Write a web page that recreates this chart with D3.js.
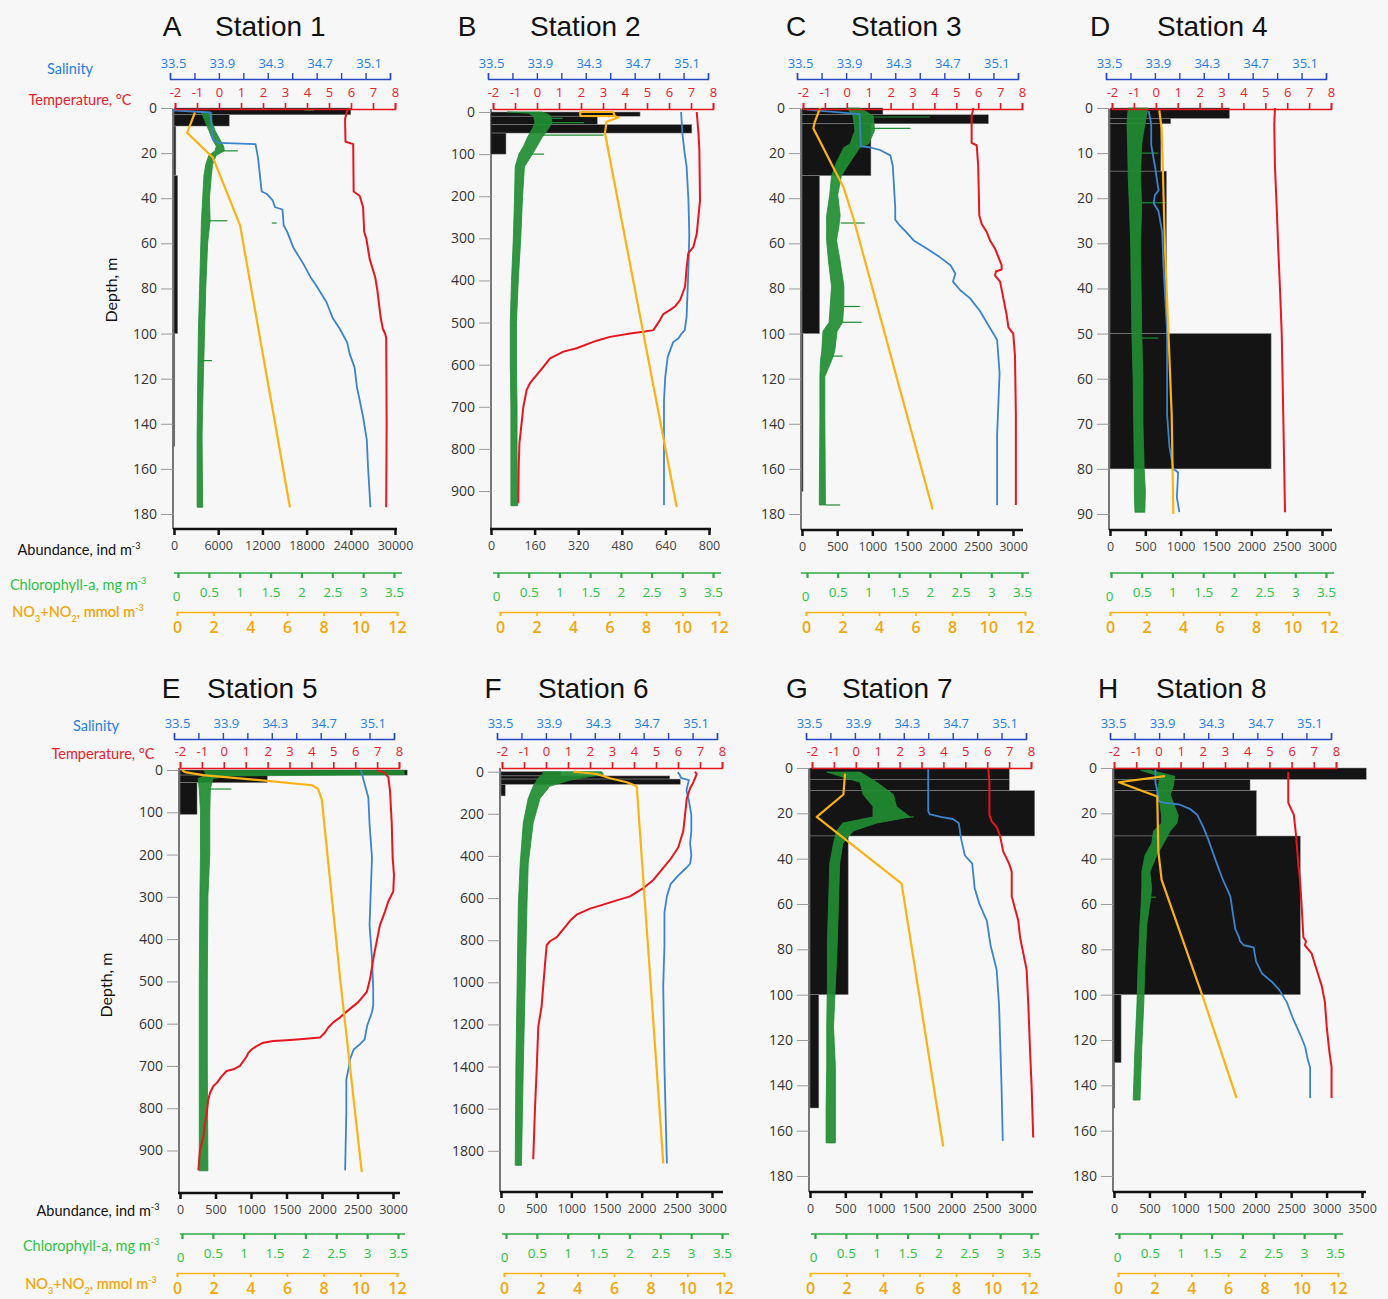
<!DOCTYPE html>
<html>
<head>
<meta charset="utf-8">
<script src="https://cdn.jsdelivr.net/npm/d3@7"></script>
<style>
  html, body { margin: 0; padding: 0; background: #f7f7f7; }
  svg { display: block; }
</style>
</head>
<body>
<svg id="chart" width="1388" height="1299"></svg>
<script>
// ---------------- data ----------------
const panelLetters = ["A", "B", "C", "D", "E", "F", "G", "H"];
const stationNames = ["Station 1", "Station 2", "Station 3", "Station 4", "Station 5", "Station 6", "Station 7", "Station 8"];

const salinityLabels = [33.5, 33.9, 34.3, 34.7, 35.1];
const salinityTickMarks = [33.5, 33.7, 33.9, 34.1, 34.3, 34.5, 34.7, 34.9, 35.1, 35.3];
const temperatureTicks = [-2, -1, 0, 1, 2, 3, 4, 5, 6, 7, 8];
const chlorophyllTicks = [0, 0.5, 1, 1.5, 2, 2.5, 3, 3.5];
const nitrateTicks = [0, 2, 4, 6, 8, 10, 12];

const depthTicks180 = [0, 20, 40, 60, 80, 100, 120, 140, 160, 180];
const depthTicks90 = [0, 10, 20, 30, 40, 50, 60, 70, 80, 90];
const depthTicks900 = [0, 100, 200, 300, 400, 500, 600, 700, 800, 900];
const depthTicks1800 = [0, 200, 400, 600, 800, 1000, 1200, 1400, 1600, 1800];

const abundanceTicks30000 = [0, 6000, 12000, 18000, 24000, 30000];
const abundanceTicks800 = [0, 160, 320, 480, 640, 800];
const abundanceTicks3000 = [0, 500, 1000, 1500, 2000, 2500, 3000];
const abundanceTicks3500 = [0, 500, 1000, 1500, 2000, 2500, 3000, 3500];

// abundance layers: [top depth, bottom depth, ind m-3]
// profiles: [depth, value]; chlorophyll band: [depth, low, high]
// Station 1
const abundance1 = [[0,3,24000],[3,8,7500],[8,30,250],[30,100,500],[100,150,100]];
const temperature1 = [[0,5.9],[2,5.8],[5,5.73],[15,5.75],[16,6.1],[37,6.12],[39,6.4],[44,6.55],[55,6.6],[58,6.7],[67,6.85],[75,7.1],[81,7.2],[93,7.35],[98,7.45],[100,7.55],[102,7.6],[140,7.62],[177,7.6]];
const salinity1 = [[1,33.52],[2,33.83],[14,33.85],[15.5,33.9],[16,34.2],[22,34.22],[37,34.25],[38,34.29],[41,34.34],[44,34.36],[45,34.42],[52,34.43],[55,34.46],[62,34.51],[69,34.59],[75,34.65],[79,34.7],[86,34.78],[93,34.83],[98,34.89],[104,34.95],[109,34.97],[115,35.01],[124,35.03],[129,35.05],[137,35.08],[147,35.11],[159,35.12],[177,35.14]];
const chlorophyll1 = [[2,0.38,0.55],[6,0.44,0.55],[10,0.5,0.6],[14,0.56,0.68],[17,0.62,0.74],[19,0.6,0.75],[21,0.5,0.62],[25,0.45,0.56],[30,0.42,0.54],[40,0.4,0.51],[50,0.38,0.52],[60,0.37,0.48],[80,0.35,0.45],[100,0.33,0.43],[120,0.32,0.41],[145,0.31,0.39],[177,0.31,0.4]];
const chlSpikes1 = [[1,2.05,2.2],[19,0.7,0.97],[50,0.5,0.8],[51,1.52,1.6],[112,0.38,0.55]];
const nitrate1 = [[2,0.98],[11,0.55],[22,1.96],[52,3.44],[177,6.16]];

// Station 2
const abundance2 = [[0,10,547],[10,30,390],[30,50,737],[50,100,55]];
const temperature2 = [[0,7.26],[50,7.34],[90,7.38],[210,7.41],[290,7.26],[320,7.11],[335,6.88],[370,6.8],[415,6.73],[447,6.5],[462,6.27],[470,6.05],[480,5.74],[494,5.59],[506,5.44],[518,5.29],[522,4.83],[526,4.23],[534,3.32],[543,2.71],[549,2.41],[561,1.8],[569,1.2],[585,0.59],[605,0.29],[625,-0.02],[644,-0.32],[660,-0.47],[700,-0.62],[739,-0.7],[787,-0.8],[842,-0.83],[929,-0.85]];
const salinity2 = [[0,35.08],[50,35.09],[100,35.11],[130,35.125],[210,35.14],[290,35.147],[370,35.14],[447,35.13],[486,35.125],[518,35.11],[526,35.085],[538,35.057],[546,35.016],[566,34.99],[582,34.97],[630,34.95],[685,34.94],[765,34.94],[933,34.94]];
const chlorophyll2 = [[0,0.15,0.7],[3,0.5,0.78],[10,0.58,0.86],[25,0.6,0.88],[40,0.56,0.82],[60,0.48,0.72],[80,0.42,0.64],[100,0.34,0.56],[130,0.28,0.43],[200,0.27,0.4],[300,0.25,0.37],[400,0.22,0.33],[500,0.2,0.3],[600,0.2,0.3],[700,0.21,0.31],[800,0.21,0.31],[935,0.21,0.32]];
const chlSpikes2 = [[15,0.8,1.05],[25,0.85,1.4],[55,0.7,1.72],[100,0.55,0.75]];
const nitrate2 = [[10,6.3],[0,6.2],[0,4.4],[9,4.4],[10,6.3],[13,6.48],[23,5.84],[50,5.75],[938,9.68]];

// Station 3
const abundance3 = [[0,3,1150],[3,7,2650],[7,30,980],[30,100,250],[100,170,15]];
const temperature3 = [[0,5.78],[3.6,5.7],[15.5,5.7],[16.5,5.93],[25.6,6.0],[47.7,6.05],[51.4,6.16],[55,6.39],[58.7,6.54],[62.4,6.77],[66,6.92],[69.7,7.07],[71.6,7.07],[72.5,6.81],[74.3,6.77],[77,7.0],[84.4,7.15],[91.8,7.3],[97.3,7.38],[100,7.6],[110,7.68],[136,7.72],[176,7.72]];
const salinity3 = [[0.7,33.58],[2.7,34.01],[17,34.02],[17.4,34.09],[18.7,34.18],[21,34.26],[25.6,34.28],[44,34.3],[49.5,34.3],[52.3,34.34],[55,34.39],[58.7,34.45],[62.4,34.56],[66,34.66],[69.7,34.75],[73.4,34.79],[77,34.77],[80.8,34.83],[84.4,34.91],[90,34.99],[97.3,35.07],[102.8,35.13],[117.5,35.15],[145,35.13],[174.5,35.13],[176,35.13]];
const chlorophyll3 = [[0,0.65,0.86],[3.6,0.75,1.08],[10,0.78,1.1],[16,0.7,1.0],[17.5,0.6,0.86],[24,0.48,0.7],[30,0.4,0.56],[38.5,0.37,0.5],[47.7,0.32,0.54],[52.3,0.32,0.52],[58.7,0.32,0.48],[68,0.35,0.54],[79,0.4,0.6],[87,0.38,0.6],[95,0.36,0.58],[99,0.26,0.49],[108,0.24,0.45],[112,0.22,0.4],[119,0.21,0.29],[136,0.21,0.29],[176,0.2,0.3]];
const chlSpikes3 = [[4,1.0,2.0],[9,1.0,1.68],[51,0.55,0.94],[88,0.6,0.86],[95,0.58,0.89],[110,0.4,0.58],[176,0.3,0.54]];
const nitrate3 = [[0,0.77],[6,0.49],[9,0.4],[25,1.41],[35,2.05],[49,2.6],[178,6.94]];

// Station 4
const abundance4 = [[0,2.3,1690],[2.3,3.5,860],[3.5,14,720],[14,50,800],[50,80,2280]];
const temperature4 = [[0,5.44],[3.6,5.41],[12.8,5.44],[22,5.52],[31,5.59],[40,5.67],[50,5.75],[68,5.82],[89.6,5.9]];
const salinity4 = [[0.7,33.85],[3.6,33.87],[8.2,33.87],[12.8,33.9],[16.5,33.92],[18.3,33.93],[19.3,33.9],[21.1,33.89],[22.9,33.93],[27.5,33.96],[35,33.97],[49.6,34.0],[68,34.0],[75.3,34.02],[79.9,34.05],[80.8,34.09],[86.3,34.08],[89.6,34.1]];
const chlorophyll4 = [[0,0.28,0.6],[3.6,0.26,0.55],[8,0.27,0.5],[15,0.28,0.48],[22,0.3,0.5],[30,0.32,0.48],[40,0.33,0.49],[50,0.34,0.5],[60,0.36,0.52],[70,0.37,0.52],[80,0.38,0.54],[85,0.38,0.56],[89.6,0.39,0.55]];
const chlSpikes4 = [[10,0.5,0.77],[21,0.5,0.9],[51,0.5,0.77]];
const nitrate4 = [[0.5,2.7],[4.5,2.83],[12.7,2.89],[31,3.01],[49.6,3.2],[68,3.38],[90,3.47]];

// Station 5
const abundance5 = [[0,12,3200],[12,30,1230],[30,105,240]];
const temperature5 = [[1,6.98],[5,7.3],[17,7.51],[49,7.59],[128,7.67],[208,7.71],[248,7.77],[287,7.74],[311,7.51],[335,7.36],[367,7.13],[406,6.98],[446,6.83],[494,6.68],[525,6.53],[549,6.14],[565,5.76],[585,5.31],[597,5.0],[609,4.77],[621,4.62],[633,4.39],[637,3.48],[639,2.87],[641,2.26],[645,1.8],[653,1.5],[661,1.27],[669,1.12],[677,1.05],[700,0.74],[708,0.44],[712,0.13],[724,-0.09],[740,-0.32],[748,-0.48],[764,-0.63],[780,-0.71],[811,-0.78],[835,-0.86],[867,-0.93],[899,-1.09],[947,-1.16]];
const salinity5 = [[0,35.03],[12,35.04],[33,35.06],[65,35.09],[128,35.1],[208,35.12],[287,35.11],[367,35.1],[446,35.12],[518,35.13],[557,35.13],[573,35.12],[589,35.1],[605,35.08],[637,35.06],[649,35.02],[661,34.97],[684,34.94],[704,34.93],[732,34.91],[811,34.91],[947,34.9]];
const chlorophyll5 = [[1,0.35,3.6],[11,0.4,3.6],[14,0.35,0.8],[20,0.26,0.5],[45,0.28,0.46],[100,0.3,0.45],[200,0.3,0.45],[300,0.29,0.42],[500,0.28,0.41],[700,0.28,0.41],[948,0.28,0.42]];
const chlSpikes5 = [[45,0.42,0.8]];
const nitrate5 = [[0,0.27],[5,0.44],[12,1.42],[24,4.5],[36,7.37],[45,7.7],[70,7.9],[494,8.9],[951,10.08]];

// Station 6
const abundance6 = [[0,20,850],[20,35,2400],[35,60,2550],[60,115,60]];
const temperature6 = [[0,6.77],[11,6.85],[50,6.7],[79,6.55],[127,6.4],[205,6.32],[282,6.24],[360,6.01],[418,5.64],[476,5.18],[514,4.88],[553,4.42],[592,3.82],[611,3.21],[631,2.6],[650,2.0],[679,1.39],[708,1.09],[747,0.79],[785,0.49],[805,0.18],[824,0.03],[921,-0.05],[1114,-0.2],[1211,-0.35],[1405,-0.42],[1598,-0.5],[1840,-0.58]];
const salinity6 = [[1.4,34.98],[31,35.01],[40,35.07],[89,35.05],[137,35.07],[205,35.09],[282,35.09],[340,35.08],[398,35.09],[437,35.08],[456,35.05],[495,34.98],[534,34.92],[592,34.89],[669,34.87],[824,34.87],[1018,34.86],[1405,34.87],[1860,34.89]];
const chlorophyll6 = [[0,0.6,1.55],[12,0.6,1.58],[21,0.55,1.4],[40,0.5,1.04],[69,0.44,0.71],[127,0.36,0.55],[244,0.28,0.44],[437,0.23,0.36],[631,0.2,0.34],[1018,0.18,0.31],[1405,0.16,0.28],[1869,0.15,0.25]];
const chlSpikes6 = [];
const nitrate6 = [[0,3.78],[11,5.06],[31,5.78],[50,6.7],[69,7.24],[1860,8.69]];

// Station 7
const abundance7 = [[0,5,2820],[5,10,2820],[10,30,3180],[30,100,540],[100,150,125]];
const temperature7 = [[0.5,6.05],[6.3,6.1],[20.6,6.1],[23.4,6.2],[26.1,6.43],[29.6,6.58],[36.8,6.73],[42.2,7.0],[45.8,7.12],[56.6,7.12],[62,7.27],[67.4,7.42],[74.6,7.5],[81.8,7.65],[89,7.8],[105,7.88],[123,7.95],[141,8.03],[163,8.1]];
const salinity7 = [[0.5,34.5],[18.9,34.5],[20.3,34.51],[21.6,34.6],[22.5,34.7],[24.3,34.75],[31.5,34.77],[38.6,34.8],[42.2,34.86],[53,34.88],[60.2,34.92],[67.4,34.98],[78.2,35.01],[89,35.06],[105,35.08],[123,35.09],[141,35.1],[164.5,35.11]];
const chlorophyll7 = [[1.8,0.19,0.73],[6.3,0.73,1.0],[11.7,0.78,1.27],[17,0.94,1.32],[21.6,0.94,1.54],[24.3,0.45,1.0],[27.8,0.35,0.62],[33.3,0.3,0.45],[42,0.24,0.4],[60,0.22,0.38],[78,0.2,0.36],[96,0.2,0.33],[114,0.19,0.3],[132,0.19,0.33],[150,0.18,0.33],[165.4,0.18,0.33]];
const chlSpikes7 = [[21.6,1.4,1.6]];
const nitrate7 = [[2.5,1.92],[11.7,1.83],[21.6,0.37],[51,5.02],[167,7.3]];

// Station 8
const abundance8 = [[0,5,3560],[5,10,1920],[10,30,2010],[30,100,2630],[100,130,100],[130,150,8]];
const temperature8 = [[1.8,5.85],[15.3,5.85],[17.1,5.93],[20.6,6.1],[29.6,6.2],[42.2,6.3],[49.4,6.38],[60.2,6.45],[69.2,6.5],[74.6,6.53],[76.4,6.65],[78.2,6.6],[80,6.75],[81.8,6.9],[89,7.13],[96.2,7.36],[103.3,7.5],[114,7.58],[125,7.7],[132,7.8],[145.6,7.8]];
const salinity8 = [[0.5,33.87],[6.3,33.87],[11.7,33.89],[14.4,33.89],[15.3,33.93],[15.6,33.99],[16.2,34.07],[18,34.15],[20.6,34.21],[26.1,34.26],[31.5,34.3],[42.2,34.37],[49.4,34.42],[56.6,34.48],[63.8,34.5],[71,34.52],[74.6,34.55],[76.4,34.56],[78.2,34.59],[79.1,34.67],[85.4,34.69],[90.8,34.74],[94.4,34.82],[98,34.88],[103.3,34.94],[110.5,34.99],[117.7,35.05],[123.1,35.09],[128.5,35.11],[132.1,35.13],[145.6,35.13]];
const chlorophyll8 = [[1,0.35,0.5],[3.6,0.66,0.9],[8,0.64,0.88],[11.7,0.61,0.83],[15.3,0.66,0.88],[21,0.69,0.96],[24.3,0.69,0.94],[27.8,0.56,0.83],[33.3,0.53,0.72],[38.6,0.42,0.61],[45.8,0.37,0.5],[53,0.37,0.53],[60,0.36,0.5],[69,0.34,0.45],[87,0.31,0.42],[105,0.29,0.4],[123,0.26,0.37],[146.5,0.23,0.34]];
const chlSpikes8 = [[57,0.45,0.6]];
const nitrate8 = [[3.6,2.56],[6.3,0.05],[12.6,2.14],[36.8,2.2],[49.4,2.38],[101.5,4.65],[145.6,6.47]];

const stations = [
  { depthMax: 180,  depthTicks: depthTicks180,  abundanceTicks: abundanceTicks30000, abundance: abundance1, temperature: temperature1, salinity: salinity1, chlorophyll: chlorophyll1, spikes: chlSpikes1, nitrate: nitrate1 },
  { depthMax: 900,  depthTicks: depthTicks900,  abundanceTicks: abundanceTicks800,   abundance: abundance2, temperature: temperature2, salinity: salinity2, chlorophyll: chlorophyll2, spikes: chlSpikes2, nitrate: nitrate2 },
  { depthMax: 180,  depthTicks: depthTicks180,  abundanceTicks: abundanceTicks3000,  abundance: abundance3, temperature: temperature3, salinity: salinity3, chlorophyll: chlorophyll3, spikes: chlSpikes3, nitrate: nitrate3 },
  { depthMax: 90,   depthTicks: depthTicks90,   abundanceTicks: abundanceTicks3000,  abundance: abundance4, temperature: temperature4, salinity: salinity4, chlorophyll: chlorophyll4, spikes: chlSpikes4, nitrate: nitrate4 },
  { depthMax: 900,  depthTicks: depthTicks900,  abundanceTicks: abundanceTicks3000,  abundance: abundance5, temperature: temperature5, salinity: salinity5, chlorophyll: chlorophyll5, spikes: chlSpikes5, nitrate: nitrate5 },
  { depthMax: 1800, depthTicks: depthTicks1800, abundanceTicks: abundanceTicks3000,  abundance: abundance6, temperature: temperature6, salinity: salinity6, chlorophyll: chlorophyll6, spikes: chlSpikes6, nitrate: nitrate6 },
  { depthMax: 180,  depthTicks: depthTicks180,  abundanceTicks: abundanceTicks3000,  abundance: abundance7, temperature: temperature7, salinity: salinity7, chlorophyll: chlorophyll7, spikes: chlSpikes7, nitrate: nitrate7 },
  { depthMax: 180,  depthTicks: depthTicks180,  abundanceTicks: abundanceTicks3500,  abundance: abundance8, temperature: temperature8, salinity: salinity8, chlorophyll: chlorophyll8, spikes: chlSpikes8, nitrate: nitrate8 }
];

// ---------------- layout ----------------
const rows = [
  { titleY: 36,  salY: 79,  tempY: 109, chlY: 573,  no3Y: 612 },
  { titleY: 698, salY: 739, tempY: 768, chlY: 1234, no3Y: 1273 }
];
const layout = [
  { row: 0, x0: 173,  depth: [108, 514],     temp: [175, 395],   sal: [170, 390],   chl: [178, 394],   no3: [177, 397],   abund: [174, 395],   abundY: 529,  abundLine: [173, 397],   chlLine: [174, 402],   letterX: 172,  titleX: 215 },
  { row: 0, x0: 491,  depth: [112, 491],     temp: [493, 713],   sal: [488, 708],   chl: [498, 713],   no3: [500, 719],   abund: [491, 709],   abundY: 529,  abundLine: [490, 711],   chlLine: [493, 721],   letterX: 467,  titleX: 530 },
  { row: 0, x0: 801,  depth: [108, 514],     temp: [803, 1022],  sal: [797, 1018],  chl: [807, 1022],  no3: [806, 1025],  abund: [802, 1013],  abundY: 530,  abundLine: [801, 1023],  chlLine: [801, 1029],  letterX: 796,  titleX: 851 },
  { row: 0, x0: 1109, depth: [108, 514],     temp: [1112, 1331], sal: [1106, 1326], chl: [1111, 1326], no3: [1110, 1329], abund: [1110, 1322], abundY: 530,  abundLine: [1109, 1332], chlLine: [1110, 1334], letterX: 1100, titleX: 1157 },
  { row: 1, x0: 179,  depth: [770, 1150.5],  temp: [180, 399],   sal: [174, 394],   chl: [182, 398],   no3: [177, 397],   abund: [180, 393],   abundY: 1193, abundLine: [178, 400],   chlLine: [180, 405],   letterX: 171,  titleX: 207 },
  { row: 1, x0: 500,  depth: [771.7, 1150.8], temp: [502, 722],  sal: [497, 717],   chl: [506, 722],   no3: [504, 724],   abund: [501, 712],   abundY: 1192, abundLine: [500, 723],   chlLine: [502, 729],   letterX: 493,  titleX: 538 },
  { row: 1, x0: 809,  depth: [768, 1176],    temp: [812, 1031],  sal: [806, 1026],  chl: [815, 1031],  no3: [810, 1029],  abund: [810, 1022],  abundY: 1192, abundLine: [809, 1033],  chlLine: [811, 1039],  letterX: 797,  titleX: 842 },
  { row: 1, x0: 1113, depth: [768, 1176],    temp: [1114, 1336], sal: [1110, 1331], chl: [1119, 1335], no3: [1118, 1338], abund: [1114, 1362], abundY: 1192, abundLine: [1113, 1366], chlLine: [1115, 1343], letterX: 1108, titleX: 1156 }
];

const COL = {
  sal: "#3b84cc", salAxis: "#2748c4", salText: "#1f7ee6",
  temp: "#e5161e", tempText: "#e8202a",
  chl: "#1f8c32", chlAxis: "#2eaa45", chlText: "#2cc23e",
  no3: "#fbb216", no3Text: "#f2a60a",
  bar: "#141414", ink: "#111", tick: "#333"
};
const TICK_FONT = "'Open Sans', 'Liberation Sans', sans-serif";
const LABEL_FONT = "Lato, 'Open Sans', sans-serif";
const TITLE_FONT = "'Liberation Sans', Arial, sans-serif";

const svg = d3.select("#chart");

function styleAxis(g, stroke, textFill, size, weight) {
  g.attr("font-family", TICK_FONT).attr("font-size", size);
  g.selectAll("line").attr("stroke", stroke);
  g.selectAll("path").attr("stroke", stroke);
  g.selectAll("text").attr("fill", textFill).attr("font-weight", weight || 400);
}

stations.forEach((st, i) => {
  const L = layout[i], R = rows[L.row];
  const g = svg.append("g").attr("class", "panel");

  const y = d3.scaleLinear().domain([0, st.depthMax]).range(L.depth);
  const xT = d3.scaleLinear().domain([-2, 8]).range(L.temp);
  const xS = d3.scaleLinear().domain([33.5, 35.3]).range(L.sal);
  const xC = d3.scaleLinear().domain([0, 3.5]).range(L.chl);
  const xN = d3.scaleLinear().domain([0, 12]).range(L.no3);
  const xA = d3.scaleLinear().domain([0, st.abundanceTicks[st.abundanceTicks.length - 1]]).range(L.abund);

  // title
  g.append("text").attr("x", L.letterX).attr("y", R.titleY).attr("text-anchor", "middle")
    .attr("font-family", TITLE_FONT).attr("font-size", 28).attr("fill", COL.ink).text(panelLetters[i]);
  g.append("text").attr("x", L.titleX).attr("y", R.titleY)
    .attr("font-family", TITLE_FONT).attr("font-size", 28).attr("fill", COL.ink).text(stationNames[i]);

  // abundance layers
  g.append("g").selectAll("rect").data(st.abundance).join("rect")
    .attr("x", xA(0))
    .attr("y", d => y(d[0]))
    .attr("width", d => Math.max(0.8, xA(d[2]) - xA(0)))
    .attr("height", d => y(d[1]) - y(d[0]))
    .attr("fill", COL.bar).attr("stroke", "#8c8c8c").attr("stroke-width", 0.5);

  // depth axis
  g.append("line").attr("x1", L.x0).attr("x2", L.x0).attr("y1", R.tempY).attr("y2", L.abundY)
    .attr("stroke", "#222").attr("stroke-width", 1.2);
  const dAx = g.append("g").attr("transform", `translate(${L.x0},0)`)
    .call(d3.axisLeft(y).tickValues(st.depthTicks).tickSize(12).tickPadding(4).tickFormat(d => String(d)));
  dAx.select(".domain").remove();
  styleAxis(dAx, "#9a9a9a", "#333", 14);

  // chlorophyll band
  const band = d3.area().y(d => y(d[0])).x0(d => xC(d[1])).x1(d => xC(d[2]));
  g.append("path").datum(st.chlorophyll).attr("d", band)
    .attr("fill", COL.chl).attr("fill-opacity", 0.92)
    .attr("stroke", COL.chl).attr("stroke-width", 0.8).attr("stroke-linejoin", "round");
  g.append("g").selectAll("line").data(st.spikes).join("line")
    .attr("x1", d => xC(d[1])).attr("x2", d => xC(d[2]))
    .attr("y1", d => y(d[0])).attr("y2", d => y(d[0]))
    .attr("stroke", COL.chl).attr("stroke-width", 1.2);

  // salinity
  g.append("path").datum(st.salinity)
    .attr("d", d3.line().x(d => xS(d[1])).y(d => y(d[0])))
    .attr("fill", "none").attr("stroke", COL.sal).attr("stroke-width", 1.8).attr("stroke-linejoin", "round");
  // temperature
  g.append("path").datum(st.temperature)
    .attr("d", d3.line().x(d => xT(d[1])).y(d => y(d[0])))
    .attr("fill", "none").attr("stroke", COL.temp).attr("stroke-width", 2).attr("stroke-linejoin", "round");
  // nitrate + nitrite
  g.append("path").datum(st.nitrate)
    .attr("d", d3.line().x(d => xN(d[1])).y(d => y(d[0])))
    .attr("fill", "none").attr("stroke", COL.no3).attr("stroke-width", 2.2).attr("stroke-linejoin", "round");

  // salinity axis
  const sAx = g.append("g").attr("transform", `translate(0,${R.salY})`)
    .call(d3.axisTop(xS).tickValues(salinityTickMarks).tickSize(6).tickSizeOuter(6).tickPadding(5)
      .tickFormat(d => salinityLabels.includes(d) ? d.toFixed(1) : ""));
  styleAxis(sAx, COL.salAxis, COL.salText, 13);
  sAx.selectAll("text").attr("x", 3);
  sAx.selectAll("path, line").attr("stroke-width", 1.4);

  // temperature axis
  const tAx = g.append("g").attr("transform", `translate(0,${R.tempY})`)
    .call(d3.axisTop(xT).tickValues(temperatureTicks).tickSize(6).tickSizeOuter(6).tickPadding(6)
      .tickFormat(d => String(d)));
  styleAxis(tAx, COL.temp, COL.tempText, 13);
  tAx.selectAll("path, line").attr("stroke-width", 1.6);

  // abundance axis
  g.append("line").attr("x1", L.abundLine[0]).attr("x2", L.abundLine[1])
    .attr("y1", L.abundY).attr("y2", L.abundY).attr("stroke", "#111").attr("stroke-width", 2.5);
  const aAx = g.append("g").attr("transform", `translate(0,${L.abundY})`)
    .call(d3.axisBottom(xA).tickValues(st.abundanceTicks).tickSize(6).tickPadding(6).tickFormat(d => String(d)));
  aAx.select(".domain").remove();
  styleAxis(aAx, "#111", "#444", 12.5);
  aAx.selectAll("line").attr("stroke-width", 2.5);

  // chlorophyll axis
  g.append("line").attr("x1", L.chlLine[0]).attr("x2", L.chlLine[1])
    .attr("y1", R.chlY).attr("y2", R.chlY).attr("stroke", COL.chlAxis).attr("stroke-width", 1.6);
  const cAx = g.append("g").attr("transform", `translate(0,${R.chlY})`)
    .call(d3.axisBottom(xC).tickValues(chlorophyllTicks).tickSize(5).tickPadding(9).tickFormat(d => String(d)));
  cAx.select(".domain").remove();
  styleAxis(cAx, COL.chlAxis, COL.chlText, 13.5);
  cAx.selectAll("line").attr("stroke-width", 2.2);
  cAx.selectAll(".tick").filter(d => d === 0).select("text").attr("dy", "1.0em").attr("x", -2);

  // nitrate axis
  const nAx = g.append("g").attr("transform", `translate(0,${R.no3Y})`)
    .call(d3.axisBottom(xN).tickValues(nitrateTicks).tickSize(4).tickSizeOuter(4).tickPadding(6).tickFormat(d => String(d)));
  styleAxis(nAx, COL.no3, COL.no3Text, 16, 600);
  nAx.selectAll("path, line").attr("stroke-width", 1.6);
});

// ---------------- row labels ----------------
function richLabel(x, y, pieces, fill, size, weight) {
  const t = svg.append("text").attr("x", x).attr("y", y).attr("text-anchor", "middle")
    .attr("font-family", LABEL_FONT).attr("font-size", size).attr("fill", fill)
    .attr("font-weight", weight || 400);
  let shift = 0;
  pieces.forEach(p => {
    const target = p.sup ? -6 : p.sub ? 5 : 0;
    const ts = t.append("tspan").attr("dy", target - shift).text(p.t);
    if (p.sup || p.sub) ts.attr("font-size", size * 0.62);
    shift = target;
  });
  return t;
}

const rowLabelPos = [
  { sal: [70, 74],  temp: [80, 105],  depth: [117, 290], abund: [79, 555],  chl: [78, 590],  no3: [78, 617] },
  { sal: [96, 731], temp: [103, 759], depth: [112, 985], abund: [98, 1216], chl: [91, 1251], no3: [91, 1289] }
];
rowLabelPos.forEach(p => {
  richLabel(p.sal[0], p.sal[1], [{ t: "Salinity" }], COL.salText, 14.5);
  richLabel(p.temp[0], p.temp[1], [{ t: "Temperature, °C" }], COL.tempText, 14.5);
  richLabel(p.abund[0], p.abund[1], [{ t: "Abundance, ind m" }, { t: "-3", sup: true }], COL.ink, 14.5);
  richLabel(p.chl[0], p.chl[1], [{ t: "Chlorophyll-a, mg m" }, { t: "-3", sup: true }], COL.chlText, 14.5);
  richLabel(p.no3[0], p.no3[1], [{ t: "NO" }, { t: "3", sub: true }, { t: "+NO" }, { t: "2", sub: true }, { t: ", mmol m" }, { t: "-3", sup: true }], COL.no3Text, 14.5, 600);
  svg.append("text").attr("transform", `translate(${p.depth[0]},${p.depth[1]}) rotate(-90)`)
    .attr("text-anchor", "middle").attr("font-family", LABEL_FONT).attr("font-size", 16)
    .attr("fill", COL.ink).text("Depth, m");
});
</script>
</body>
</html>
